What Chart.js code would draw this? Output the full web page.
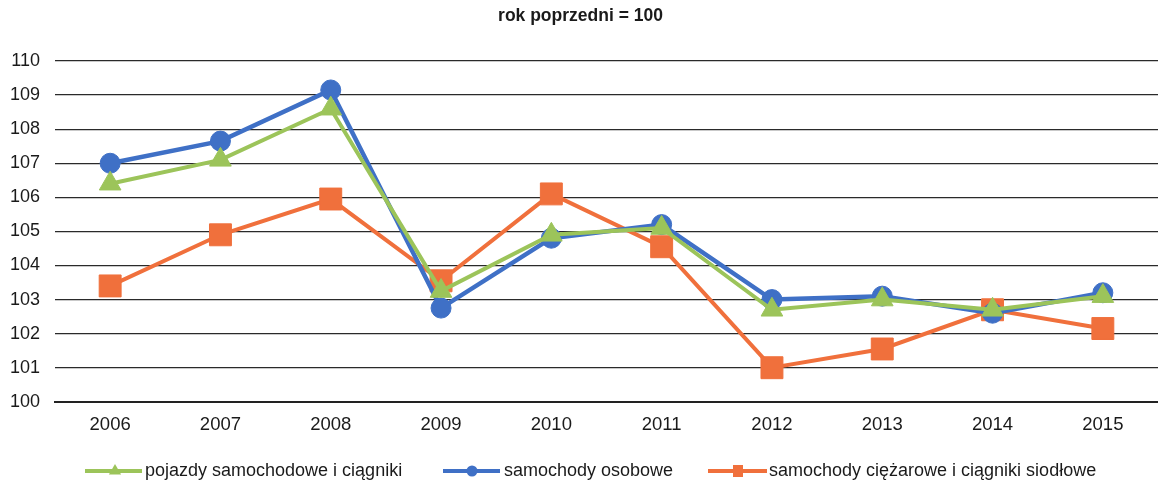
<!DOCTYPE html>
<html>
<head>
<meta charset="utf-8">
<script src="https://cdn.jsdelivr.net/npm/chart.js@4"></script>
<style>
html,body{margin:0;padding:0;background:#fff;}
#wrap{width:1158px;height:481px;position:relative;overflow:hidden;}
</style>
</head>
<body>
<div id="wrap"><canvas id="c" width="1158" height="481"></canvas></div>
<script>
const years = ['2006','2007','2008','2009','2010','2011','2012','2013','2014','2015'];
const pojazdy = [106.4, 107.1, 108.6, 103.25, 104.9, 105.1, 102.7, 103.0, 102.7, 103.1];
const osobowe = [107.0, 107.65, 109.15, 102.75, 104.8, 105.2, 103.0, 103.1, 102.6, 103.2];
const ciezarowe = [103.4, 104.9, 105.95, 103.55, 106.1, 104.55, 101.0, 101.55, 102.7, 102.15];
const seriesNames = ['pojazdy samochodowe i ciągniki', 'samochody osobowe', 'samochody ciężarowe i ciągniki siodłowe'];
const yTicks = [100,101,102,103,104,105,106,107,108,109,110];
const titleText = 'rok poprzedni = 100';

const GREEN = '#9cc45a', BLUE = '#3f70c6', ORANGE = '#f0703c';
const FONT = '"Liberation Sans", Arial, sans-serif';

const legendPlugin = {
  id: 'customLegend',
  afterDraw(chart) {
    const ctx = chart.ctx;
    const items = [
      {x: 85, w: 57, mx: 115, color: GREEN, style: 'triangle', r: 7, tx: 145},
      {x: 443, w: 57, mx: 472, color: BLUE, style: 'circle', r: 5.5, tx: 504},
      {x: 708, w: 59, mx: 738, color: ORANGE, style: 'rect', r: 6, tx: 769}
    ];
    const y = 471;
    ctx.save();
    chart.data.datasets.forEach((ds, i) => {
      const it = items[i];
      ctx.strokeStyle = it.color; ctx.lineWidth = 4;
      ctx.beginPath(); ctx.moveTo(it.x, y); ctx.lineTo(it.x + it.w, y); ctx.stroke();
      ctx.fillStyle = it.color;
      ctx.beginPath();
      const cx = it.mx;
      if (it.style === 'circle') { ctx.arc(cx, y, it.r, 0, Math.PI*2); }
      else if (it.style === 'rect') { ctx.rect(cx - 5, y - it.r, 10, 2*it.r); }
      else { ctx.moveTo(cx, y - it.r); ctx.lineTo(cx + it.r*0.87, y + it.r*0.5); ctx.lineTo(cx - it.r*0.87, y + it.r*0.5); ctx.closePath(); }
      ctx.fill();
      ctx.fillStyle = '#1a1a1a';
      ctx.font = '18px ' + FONT;
      ctx.textBaseline = 'middle';
      ctx.textAlign = 'left';
      ctx.fillText(ds.label, it.tx, y);
    });
    ctx.restore();
  }
};

new Chart(document.getElementById('c'), {
  type: 'line',
  data: {
    labels: years,
    datasets: [
      {label: seriesNames[0], data: pojazdy, borderColor: GREEN, backgroundColor: GREEN, borderWidth: 4,
       pointStyle: 'triangle', pointRadius: 12.5, pointBorderWidth: 1, pointBackgroundColor: GREEN, pointBorderColor: GREEN, tension: 0},
      {label: seriesNames[1], data: osobowe, borderColor: BLUE, backgroundColor: BLUE, borderWidth: 4.5,
       pointStyle: 'circle', pointRadius: 10, pointBorderWidth: 1, pointBackgroundColor: BLUE, pointBorderColor: BLUE, tension: 0},
      {label: seriesNames[2], data: ciezarowe, borderColor: ORANGE, backgroundColor: ORANGE, borderWidth: 4,
       pointStyle: 'rect', pointRadius: 15.5, pointBorderWidth: 1, pointBackgroundColor: ORANGE, pointBorderColor: ORANGE, tension: 0}
    ]
  },
  options: {
    responsive: false,
    animation: false,
    layout: {autoPadding: false, padding: {left: 0, right: -3, top: 0, bottom: 33}},
    plugins: {
      legend: {display: false},
      tooltip: {enabled: false},
      title: {display: true, text: titleText, color: '#1a1a1a',
              font: {family: FONT, size: 17.5, weight: 'bold'}, padding: {top: 6, bottom: 34}}
    },
    scales: {
      x: {
        offset: true,
        afterFit(s) { s.paddingLeft = 0; s.paddingRight = 0; },
        grid: {display: false, drawTicks: false},
        border: {display: true, color: '#222', width: 2},
        ticks: {color: '#1a1a1a', font: {family: FONT, size: 18.5}, padding: 12, maxRotation: 0}
      },
      y: {
        min: 100, max: 110,
        afterFit(s) { s.width = 55; },
        afterBuildTicks(s) { s.ticks = yTicks.map(v => ({value: v})); },
        grid: {color: '#2a2a2a', lineWidth: 1.2, drawTicks: false},
        border: {display: false},
        ticks: {color: '#1a1a1a', font: {family: FONT, size: 18}, padding: 15}
      }
    }
  },
  plugins: [legendPlugin]
});
</script>
</body>
</html>
